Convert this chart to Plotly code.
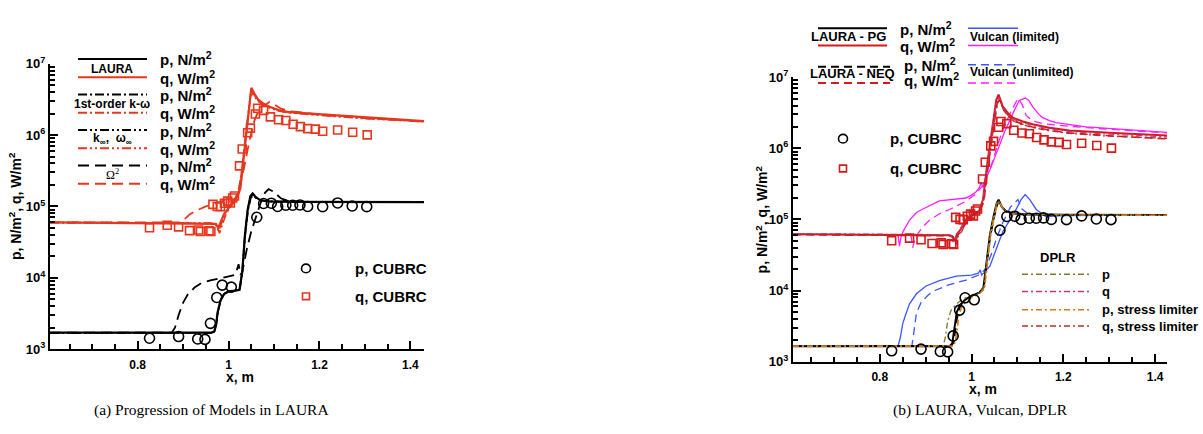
import plotly.graph_objects as go

# ---------------- CUBRC measurements (used in both panels) ----------------
x_cubrc_p = [0.826, 0.890, 0.932, 0.948, 0.960, 0.974, 0.986, 1.006, 1.062, 1.077,
             1.094, 1.108, 1.126, 1.141, 1.157, 1.174, 1.207, 1.240, 1.272, 1.304]
p_cubrc = [1420, 1500, 1390, 1370, 2300, 5300, 7900, 7400, 70600, 110000,
           111000, 100000, 104000, 104000, 105000, 100000, 99300, 112000, 101600, 99300]

x_cubrc_q = [0.826, 0.865, 0.890, 0.914, 0.934, 0.938, 0.957, 0.961, 0.9655, 0.975,
             0.982, 0.991, 0.998, 1.004, 1.009, 1.013, 1.024, 1.030, 1.042, 1.048,
             1.059, 1.064, 1.077, 1.092, 1.110, 1.126, 1.142, 1.158, 1.174, 1.191,
             1.207, 1.240, 1.273, 1.305]
q_cubrc = [50200, 54600, 51800, 45800, 46800, 44500, 45400, 44500, 107000, 100000,
           99400, 111000, 118600, 112000, 131400, 140000, 370000, 638000, 1081000, 1253000,
           1977000, 2378000, 2222000, 1799000, 1640000, 1604000, 1418000, 1313000, 1234000, 1214000,
           1130000, 1177000, 1096000, 1007000]

# ---------------- (a) progression of models in LAURA ----------------
xa_laura_p = [0.607, 0.960, 0.968, 0.972, 0.976, 0.982, 0.990, 1.000, 1.015, 1.024,
              1.030, 1.036, 1.042, 1.048, 1.053, 1.060, 1.070, 1.090, 1.150, 1.430]
pa_laura = [1700, 1700, 1750, 2100, 3300, 4800, 5900, 6400, 6600, 6800,
            12000, 40000, 90000, 140000, 152000, 135000, 122000, 118000, 116000, 115000]

xa_kw_p = [0.607, 0.962, 0.969, 0.973, 0.977, 0.983, 0.991, 1.000, 1.015, 1.025,
           1.031, 1.037, 1.043, 1.049, 1.054, 1.061, 1.072, 1.090, 1.150, 1.430]
pa_kw = [1700, 1700, 1760, 2200, 3400, 4900, 6000, 6500, 6700, 6900,
         13000, 42000, 88000, 132000, 142000, 130000, 121000, 118000, 116000, 115500]

xa_kinf_p = [0.607, 0.961, 0.968, 0.972, 0.976, 0.982, 0.990, 1.000, 1.015, 1.024,
             1.030, 1.036, 1.042, 1.048, 1.053, 1.060, 1.070, 1.090, 1.150, 1.430]
pa_kinf = [1690, 1690, 1740, 2150, 3350, 4850, 5950, 6450, 6650, 6850,
           12500, 41000, 89000, 136000, 146000, 132000, 121000, 117500, 115500, 115000]

xa_om2_p = [0.607, 0.875, 0.882, 0.890, 0.900, 0.910, 0.925, 0.940, 0.960, 0.980,
            1.000, 1.015, 1.022, 1.026, 1.030, 1.040, 1.050, 1.060, 1.070, 1.080,
            1.088, 1.100, 1.115, 1.130, 1.160, 1.430]
pa_om2 = [1700, 1700, 2000, 3000, 4500, 5800, 7300, 8400, 9200, 9800,
          10300, 11000, 15500, 11000, 12000, 25000, 45000, 70000, 110000, 155000,
          175000, 160000, 130000, 120000, 116000, 115000]

xa_laura_q = [0.607, 0.960, 0.972, 0.977, 0.983, 0.990, 1.000, 1.010, 1.020, 1.026,
              1.032, 1.038, 1.044, 1.050, 1.056, 1.064, 1.075, 1.090, 1.110, 1.130,
              1.180, 1.230, 1.300, 1.430]
qa_laura = [60000, 58000, 57000, 50000, 60000, 78000, 95000, 115000, 140000, 180000,
            400000, 1000000, 2300000, 4600000, 3900000, 3200000, 2800000, 2500000, 2250000, 2120000,
            2000000, 1900000, 1750000, 1570000]

xa_kw_q = [0.607, 0.962, 0.974, 0.980, 0.986, 0.995, 1.005, 1.015, 1.022, 1.030,
           1.038, 1.044, 1.050, 1.057, 1.065, 1.075, 1.090, 1.110, 1.130, 1.180,
           1.230, 1.300, 1.430]
qa_kw = [59000, 58000, 55000, 42000, 55000, 80000, 100000, 120000, 150000, 350000,
         1000000, 2200000, 4200000, 3600000, 3050000, 2700000, 2450000, 2200000, 2080000, 1960000,
         1870000, 1720000, 1550000]

xa_kinf_q = [0.607, 0.961, 0.972, 0.978, 0.984, 0.993, 1.003, 1.013, 1.021, 1.029,
             1.037, 1.043, 1.049, 1.056, 1.064, 1.075, 1.090, 1.110, 1.130, 1.180,
             1.230, 1.300, 1.430]
qa_kinf = [60000, 58500, 56000, 45000, 57000, 82000, 104000, 125000, 155000, 320000,
           950000, 2100000, 4000000, 3500000, 3000000, 2650000, 2400000, 2180000, 2060000, 1940000,
           1850000, 1700000, 1540000]

xa_om2_q = [0.607, 0.895, 0.905, 0.915, 0.930, 0.950, 0.975, 1.000, 1.013, 1.025,
            1.035, 1.046, 1.057, 1.068, 1.083, 1.090, 1.100, 1.115, 1.140, 1.200, 1.430]
qa_om2 = [60000, 60000, 68000, 78000, 88000, 100000, 112000, 128000, 118000, 200000,
          370000, 850000, 1600000, 2400000, 2700000, 2900000, 2700000, 2350000, 2150000, 1950000, 1550000]

# ---------------- (b) LAURA, Vulcan, DPLR ----------------
xb_pg_p = [0.611, 0.952, 0.958, 0.962, 0.968, 0.975, 0.988, 1.000, 1.017, 1.026,
           1.032, 1.040, 1.048, 1.055, 1.059, 1.066, 1.075, 1.090, 1.120, 1.200, 1.426]
pb_pg = [1650, 1650, 1800, 2600, 5000, 6300, 7600, 8400, 9300, 11000,
         25000, 60000, 110000, 170000, 190000, 150000, 130000, 122000, 118000, 116000, 115000]

xb_neq_p = [0.611, 0.955, 0.961, 0.965, 0.971, 0.978, 0.990, 1.002, 1.018, 1.027,
            1.033, 1.041, 1.049, 1.056, 1.060, 1.067, 1.076, 1.090, 1.120, 1.200, 1.426]
pb_neq = [1650, 1650, 1850, 2800, 5100, 6400, 7700, 8500, 9400, 11000,
          24000, 58000, 105000, 160000, 180000, 148000, 128000, 121000, 117000, 115500, 115000]

xb_vl_p = [0.611, 0.840, 0.845, 0.850, 0.856, 0.865, 0.880, 0.900, 0.930, 0.967,
           1.000, 1.015, 1.019, 1.022, 1.028, 1.040, 1.055, 1.068, 1.080, 1.095,
           1.108, 1.117, 1.127, 1.141, 1.162, 1.200, 1.426]
pb_vl = [1650, 1650, 2200, 3400, 4500, 6500, 9000, 11500, 13800, 15900,
         16500, 17500, 19500, 16500, 18000, 22000, 40000, 67000, 90000, 130000,
         190000, 224000, 190000, 138000, 110000, 113000, 115000]

xb_vu_p = [0.611, 0.870, 0.874, 0.880, 0.890, 0.905, 0.920, 0.950, 0.988, 1.017,
           1.030, 1.043, 1.055, 1.068, 1.085, 1.101, 1.110, 1.125, 1.150, 1.426]
pb_vu = [1650, 1650, 2500, 4800, 6800, 8600, 10000, 12000, 14000, 16600,
         20000, 32000, 55000, 90000, 150000, 190000, 140000, 118000, 114000, 115000]

xb_dp_p = [0.611, 0.938, 0.943, 0.948, 0.955, 0.965, 0.980, 1.000, 1.017, 1.027,
           1.033, 1.040, 1.048, 1.055, 1.059, 1.066, 1.075, 1.090, 1.200, 1.426]
pb_dp = [1650, 1650, 2200, 3700, 5200, 6300, 7500, 8600, 9300, 11000,
         25000, 60000, 110000, 170000, 185000, 150000, 128000, 120000, 116000, 115000]

xb_dps_p = [0.611, 0.962, 0.967, 0.972, 0.978, 0.988, 1.000, 1.017, 1.028, 1.034,
            1.041, 1.049, 1.056, 1.060, 1.067, 1.076, 1.090, 1.200, 1.426]
pb_dps = [1650, 1650, 2300, 4300, 5800, 7000, 8000, 9000, 10500, 23000,
          56000, 105000, 165000, 180000, 148000, 127000, 119000, 115500, 114500]

xb_pg_q = [0.611, 0.950, 0.958, 0.963, 0.968, 0.975, 0.988, 1.000, 1.017, 1.025,
           1.035, 1.046, 1.054, 1.059, 1.068, 1.080, 1.090, 1.110, 1.133, 1.170,
           1.213, 1.300, 1.426]
qb_pg = [62000, 60000, 58000, 50000, 62000, 70000, 100000, 115000, 132000, 190000,
         660000, 2300000, 4800000, 5700000, 3900000, 3100000, 2700000, 2400000, 2180000, 1950000,
         1780000, 1650000, 1510000]

xb_neq_q = [0.611, 0.952, 0.960, 0.965, 0.970, 0.978, 0.990, 1.002, 1.018, 1.027,
            1.037, 1.048, 1.056, 1.061, 1.070, 1.082, 1.092, 1.110, 1.133, 1.170,
            1.213, 1.300, 1.426]
qb_neq = [61000, 59000, 57000, 48000, 60000, 68000, 96000, 112000, 128000, 180000,
          620000, 2100000, 4300000, 5000000, 3500000, 2800000, 2450000, 2200000, 2000000, 1800000,
          1650000, 1500000, 1360000]

xb_vl_q = [0.611, 0.840, 0.843, 0.846, 0.851, 0.858, 0.865, 0.880, 0.894, 0.930,
           0.988, 1.000, 1.010, 1.017, 1.021, 1.025, 1.030, 1.039, 1.050, 1.061,
           1.072, 1.083, 1.094, 1.104, 1.117, 1.125, 1.133, 1.145, 1.155, 1.170,
           1.184, 1.250, 1.426]
qb_vl = [62000, 60000, 42000, 55000, 68000, 82000, 98000, 125000, 140000, 182000,
         200000, 220000, 245000, 280000, 330000, 280000, 380000, 480000, 750000, 1100000,
         1700000, 2500000, 3500000, 4700000, 5100000, 4700000, 3850000, 3100000, 2700000, 2450000,
         2300000, 2000000, 1680000]

xb_vu_q = [0.611, 0.868, 0.872, 0.876, 0.883, 0.895, 0.909, 0.930, 0.952, 0.988,
           1.010, 1.017, 1.025, 1.040, 1.054, 1.065, 1.075, 1.088, 1.101, 1.110,
           1.119, 1.135, 1.160, 1.250, 1.426]
qb_vu = [62000, 60000, 40000, 52000, 63000, 80000, 98000, 120000, 138000, 180000,
         230000, 260000, 300000, 500000, 1000000, 1600000, 2300000, 3500000, 5000000, 4200000,
         2900000, 2400000, 2200000, 1950000, 1650000]

xb_dp_q = [0.611, 0.948, 0.956, 0.961, 0.967, 0.975, 0.988, 1.000, 1.017, 1.026,
           1.036, 1.047, 1.055, 1.060, 1.069, 1.081, 1.091, 1.110, 1.133, 1.170,
           1.213, 1.300, 1.426]
qb_dp = [63000, 61000, 58000, 46000, 60000, 72000, 102000, 117000, 135000, 200000,
         700000, 2300000, 4500000, 5200000, 3600000, 2900000, 2550000, 2300000, 2100000, 1880000,
         1720000, 1580000, 1450000]

xb_dps_q = [0.611, 0.955, 0.962, 0.966, 0.971, 0.979, 0.990, 1.002, 1.018, 1.027,
            1.037, 1.048, 1.056, 1.061, 1.070, 1.082, 1.092, 1.110, 1.133, 1.170,
            1.213, 1.300, 1.426]
qb_dps = [62000, 60000, 56000, 44000, 58000, 68000, 98000, 113000, 130000, 185000,
          640000, 2100000, 4200000, 4800000, 3400000, 2750000, 2400000, 2150000, 1970000, 1760000,
          1620000, 1480000, 1380000]

# tick labels
decades = [1e3, 1e4, 1e5, 1e6, 1e7]
decade_text = ["10<sup>3</sup>", "10<sup>4</sup>", "10<sup>5</sup>", "10<sup>6</sup>", "10<sup>7</sup>"]
x_major = [0.8, 1.0, 1.2, 1.4]
x_major_text = ["0.8", "1", "1.2", "1.4"]

# ---------------- styling ----------------
W, H = 1203, 434
RED_A = "#e8361e"
RED_B = "#d41a1a"
MAGENTA = "#ff1cff"
BLUE = "#3c55ff"
OLIVE = "#7d7b2c"
PINK = "#c8368a"
ORANGE = "#d8781a"
DKRED = "#b42e2e"

DASHDOT_A = "9px,3px,2px,3px"
DASHDOTDOT_A = "9px,3px,2px,3px,2px,3px"
DASH_A = "11px,6px"
DASH_B = "8px,5px"
DASHDOT_B = "6px,3px,2px,3px"

FONT = "Liberation Sans"


def fx(p):
    return p / W


def fy(p):
    return 1 - p / H


fig = go.Figure()


def line(x, y, color, width, dash, xa, ya):
    fig.add_trace(go.Scatter(x=x, y=y, mode="lines", xaxis=xa, yaxis=ya,
                             line=dict(color=color, width=width, dash=dash),
                             hoverinfo="skip"))


def markers(x, y, symbol, size, color, xa, ya):
    fig.add_trace(go.Scatter(x=x, y=y, mode="markers", xaxis=xa, yaxis=ya,
                             marker=dict(symbol=symbol, size=size, color=color,
                                         line=dict(color=color, width=1.6)),
                             hoverinfo="skip"))


# panel (a)
line(xa_laura_q, qa_laura, RED_A, 2.2, "solid", "x", "y")
line(xa_kw_q, qa_kw, RED_A, 1.6, DASHDOT_A, "x", "y")
line(xa_kinf_q, qa_kinf, RED_A, 1.6, DASHDOTDOT_A, "x", "y")
line(xa_om2_q, qa_om2, RED_A, 1.8, DASH_A, "x", "y")
line(xa_laura_p, pa_laura, "black", 2.2, "solid", "x", "y")
line(xa_kw_p, pa_kw, "black", 1.6, DASHDOT_A, "x", "y")
line(xa_kinf_p, pa_kinf, "black", 1.6, DASHDOTDOT_A, "x", "y")
line(xa_om2_p, pa_om2, "black", 1.8, DASH_A, "x", "y")
markers(x_cubrc_q, q_cubrc, "square-open", 8, RED_A, "x", "y")
markers(x_cubrc_p, p_cubrc, "circle-open", 10, "black", "x", "y")

# panel (b)
line(xb_vl_q, qb_vl, MAGENTA, 1.3, "solid", "x2", "y2")
line(xb_vu_q, qb_vu, MAGENTA, 1.3, DASH_B, "x2", "y2")
line(xb_vl_p, pb_vl, BLUE, 1.3, "solid", "x2", "y2")
line(xb_vu_p, pb_vu, BLUE, 1.3, DASH_B, "x2", "y2")
line(xb_pg_q, qb_pg, RED_B, 2.0, "solid", "x2", "y2")
line(xb_neq_q, qb_neq, RED_B, 1.6, DASH_B, "x2", "y2")
line(xb_dp_q, qb_dp, PINK, 1.3, DASHDOT_B, "x2", "y2")
line(xb_dps_q, qb_dps, DKRED, 1.3, DASHDOT_B, "x2", "y2")
line(xb_pg_p, pb_pg, "black", 2.0, "solid", "x2", "y2")
line(xb_neq_p, pb_neq, "black", 1.6, DASH_B, "x2", "y2")
line(xb_dp_p, pb_dp, OLIVE, 1.3, DASHDOT_B, "x2", "y2")
line(xb_dps_p, pb_dps, ORANGE, 1.6, DASHDOT_B, "x2", "y2")
markers(x_cubrc_q, q_cubrc, "square-open", 8, RED_B, "x2", "y2")
markers(x_cubrc_p, p_cubrc, "circle-open", 10, "black", "x2", "y2")

# ---------------- axes ----------------
minor_y = [k * 10 ** e for e in range(3, 7) for k in range(2, 10)]
minor_x = [round(0.65 + 0.05 * i, 2) for i in range(16)]


def xaxis(domain, rng, anchor):
    return dict(domain=domain, range=rng, anchor=anchor, showgrid=False, zeroline=False,
                showline=True, linecolor="black", linewidth=2,
                tickmode="array", tickvals=x_major, ticktext=x_major_text,
                ticks="inside", ticklen=8, tickwidth=2, tickcolor="black",
                ticklabelstandoff=3,
                tickfont=dict(family=FONT, size=12, color="black", weight="bold"),
                minor=dict(tickmode="array", tickvals=minor_x, ticks="inside",
                           ticklen=5, tickwidth=1.5, tickcolor="black"))


def yaxis(domain, anchor):
    return dict(domain=domain, type="log", range=[3, 7], anchor=anchor, showgrid=False,
                zeroline=False, showline=True, linecolor="black", linewidth=2,
                tickmode="array", tickvals=decades, ticktext=decade_text,
                ticks="inside", ticklen=8, tickwidth=2, tickcolor="black",
                tickfont=dict(family=FONT, size=13, color="black", weight="bold"),
                minor=dict(tickmode="array", tickvals=minor_y, ticks="inside",
                           ticklen=5, tickwidth=1.5, tickcolor="black"))


fig.update_layout(
    width=W, height=H, margin=dict(l=0, r=0, t=0, b=0),
    paper_bgcolor="white", plot_bgcolor="white", showlegend=False,
    xaxis=xaxis([fx(50), fx(424)], [0.607, 1.43], "y"),
    yaxis=yaxis([fy(354), fy(57)], "x"),
    xaxis2=xaxis([fx(793), fx(1167)], [0.611, 1.426], "y2"),
    yaxis2=yaxis([fy(367), fy(71)], "x2"),
)

# ---------------- annotations and legend keys ----------------
shapes = []
annotations = []


def text(x, y, s, size=15, anchor="left", family=FONT, bold=True, angle=0):
    annotations.append(dict(x=fx(x), y=fy(y), xref="paper", yref="paper", text=s,
                            showarrow=False, xanchor=anchor, yanchor="middle",
                            textangle=angle,
                            font=dict(family=family, size=size, color="black",
                                      weight="bold" if bold else "normal")))


def key(x0, x1, y, color, dash, width=2):
    shapes.append(dict(type="line", xref="paper", yref="paper",
                       x0=fx(x0), x1=fx(x1), y0=fy(y), y1=fy(y),
                       line=dict(color=color, width=width, dash=dash)))


def circle_key(cx, cy, r, color):
    shapes.append(dict(type="circle", xref="paper", yref="paper",
                       x0=fx(cx - r), x1=fx(cx + r), y0=fy(cy + r), y1=fy(cy - r),
                       line=dict(color=color, width=1.6)))


def square_key(cx, cy, r, color):
    shapes.append(dict(type="rect", xref="paper", yref="paper",
                       x0=fx(cx - r), x1=fx(cx + r), y0=fy(cy + r), y1=fy(cy - r),
                       line=dict(color=color, width=1.6)))


# legend of panel (a)
groups_a = [("LAURA", "solid", 52, 62, 71),
            ("1st-order k-ω", DASHDOT_A, 89, 99, 108),
            ("k<sub>∞</sub>,  ω<sub>∞</sub>", DASHDOTDOT_A, 126, 135, 145),
            ("Ω<sup>2</sup>", DASH_A, 163, 172, 182)]
for name, dash, yp, yn, yq in groups_a:
    key(78, 147, yp, "black", dash)
    key(78, 147, yq, RED_A, dash)
    if name.startswith("Ω"):
        text(112, yn, name, size=12, anchor="center", family="Liberation Serif", bold=False)
    else:
        text(112, yn, name, size=12, anchor="center")
    text(158, yp, "p, N/m<sup>2</sup>")
    text(158, yq, "q, W/m<sup>2</sup>")

circle_key(306, 270, 4.5, "black")
square_key(306, 299, 3.5, RED_A)
text(353, 270, "p, CUBRC")
text(353, 299, "q, CUBRC")

# legend of panel (b)
key(818, 887, 20, "black", "solid")
key(818, 887, 38, RED_B, "solid")
text(848, 29, "LAURA - PG", size=13, anchor="center")
text(898, 20, "p, N/m<sup>2</sup>")
text(898, 38, "q, W/m<sup>2</sup>")
key(968, 1018, 20, BLUE, "solid", 1.5)
key(968, 1018, 38, MAGENTA, "solid", 1.5)
text(968, 29, "Vulcan (limited)", size=12)

key(818, 890, 60, "black", DASH_B)
key(818, 890, 77, RED_B, DASH_B)
text(852, 67, "LAURA - NEQ", size=13, anchor="center")
text(902, 58, "p, N/m<sup>2</sup>")
text(902, 73, "q, W/m<sup>2</sup>")
key(968, 1018, 58, BLUE, DASH_B, 1.5)
key(968, 1018, 77, MAGENTA, DASH_B, 1.5)
text(968, 66, "Vulcan (unlimited)", size=12)

circle_key(843, 135, 4.5, "black")
square_key(843, 166, 3.5, RED_B)
text(888, 135, "p, CUBRC")
text(888, 166, "q, CUBRC")

text(1058, 259, "DPLR", size=13, anchor="center")
dplr_keys = [("p", OLIVE, 276), ("q", PINK, 294),
             ("p, stress limiter", ORANGE, 313), ("q, stress limiter", DKRED, 330)]
for lab, col, yk in dplr_keys:
    key(1022, 1090, yk, col, DASHDOT_B, 1.6)
    text(1100, yk, lab, size=13)

# axis titles
text(240, 383, "x, m", size=14, anchor="center")
text(983, 396, "x, m", size=14, anchor="center")
text(15, 205, "p, N/m<sup>2</sup>, q, W/m<sup>2</sup>", size=14, anchor="center", angle=-90)
text(762, 219, "p, N/m<sup>2</sup>, q, W/m<sup>2</sup>", size=14, anchor="center", angle=-90)

# captions
text(211, 417, "(a) Progression of Models in LAURA", size=15.5, anchor="center",
     family="Liberation Serif", bold=False)
text(980, 417, "(b) LAURA, Vulcan, DPLR", size=15.5, anchor="center",
     family="Liberation Serif", bold=False)

fig.update_layout(shapes=shapes, annotations=annotations)
fig.write_html("out.html")
